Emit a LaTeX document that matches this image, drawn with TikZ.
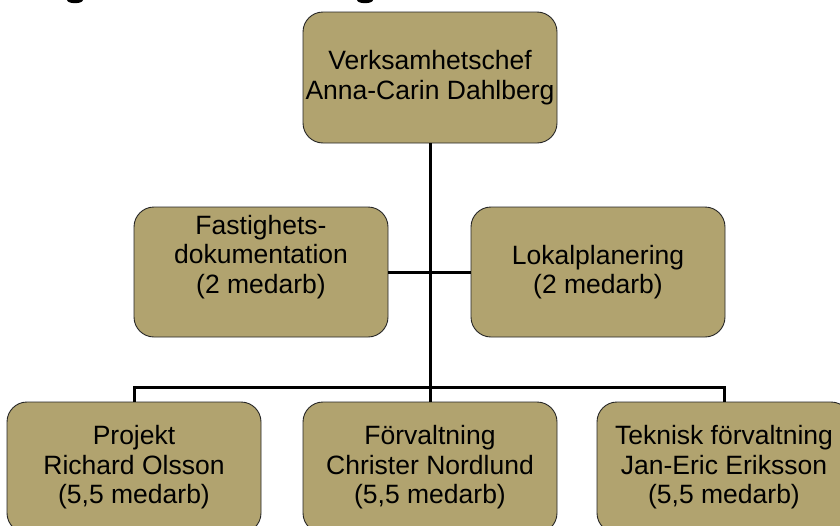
\documentclass[tikz,border=0pt]{standalone}
\usepackage{fontspec}
\setmainfont{Liberation Sans}
\definecolor{boxfill}{RGB}{177,163,111}
\tikzset{
  orgfont/.style={font=\fontsize{26.5}{29.5}\selectfont, align=center},
  orgbox/.style={draw=black!85, line width=0.9pt, fill=boxfill, rounded corners=20pt,
    minimum width=254pt, minimum height=131pt, inner sep=0pt, orgfont},
  conn/.style={draw=black, line width=3pt}
}
\begin{document}
\begin{tikzpicture}[x=1pt,y=-1pt]
\clip (0,0) rectangle (840,525);
\fill[white] (0,0) rectangle (840,525);
% cut-off title descenders
\fill[black] (75,0) ellipse (8 and 3.2);
\fill[black] (365,0) ellipse (8 and 3.2);

\node[orgbox] (top) at (430,77.5) {Verksamhetschef\\Anna-Carin Dahlberg};
\node[orgbox, minimum height=130pt,
  label={[orgfont, yshift=15pt]center:{Fastighets-\\dokumentation\\(2 medarb)}}] (ml) at (261,272) {};
\node[orgbox, minimum height=130pt] (mr) at (598,272) {Lokalplanering\\(2 medarb)};
\node[orgbox] (bl) at (134,467.5) {Projekt\\Richard Olsson\\(5,5 medarb)};
\node[orgbox] (bm) at (430,467.5) {Förvaltning\\Christer Nordlund\\(5,5 medarb)};
\node[orgbox] (br) at (724,467.5) {Teknisk förvaltning\\Jan-Eric Eriksson\\(5,5 medarb)};

\coordinate (bar) at (430,387);
\draw[conn] (top.south) -- (bar);
\draw[conn] (ml.east) -- (mr.west);
\draw[conn] (bl.north) |- (bar) -| (br.north);
\draw[conn] (bar) -- (bm.north);
\end{tikzpicture}
\end{document}
